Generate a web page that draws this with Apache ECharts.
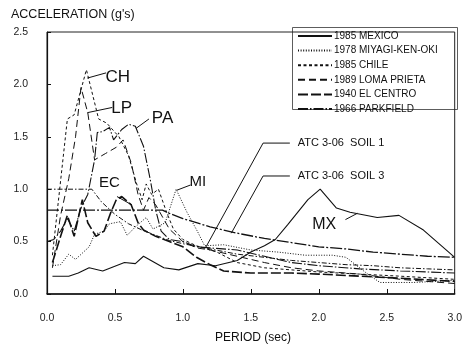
<!DOCTYPE html>
<html><head><meta charset="utf-8">
<script src="https://cdn.jsdelivr.net/npm/echarts@6/dist/echarts.min.js"></script>
<style>html,body{margin:0;padding:0;background:#fff}#c{width:465px;height:345px}</style>
</head><body><div id="c"></div>
<script>
// tick labels
var xTicks = [0, 0.5, 1.0, 1.5, 2.0, 2.5, 3.0];
var yTicks = [0, 0.5, 1.0, 1.5, 2.0, 2.5];
// [period (sec), acceleration (g)]
var mexico = [[0.04,0.17],[0.16,0.17],[0.23,0.2],[0.31,0.25],[0.41,0.22],[0.57,0.3],[0.65,0.29],[0.71,0.36],[0.86,0.25],[0.97,0.23],[1.11,0.29],[1.24,0.27],[1.40,0.32],[1.5,0.40],[1.6,0.46],[1.68,0.52],[1.77,0.66],[1.92,0.90],[2.01,1.0],[2.13,0.82],[2.23,0.78],[2.43,0.73],[2.59,0.75],[2.77,0.61],[3.0,0.35]];
var miyagi = [[0.04,0.27],[0.1,0.28],[0.16,0.38],[0.21,0.33],[0.31,0.45],[0.35,0.57],[0.42,0.6],[0.46,0.67],[0.54,0.69],[0.59,0.56],[0.65,0.64],[0.73,0.73],[0.78,0.62],[0.87,0.68],[0.95,1.0],[1.03,0.78],[1.11,0.59],[1.16,0.46],[1.3,0.47],[1.5,0.42],[1.7,0.40],[1.9,0.37],[2.1,0.37],[2.2,0.35],[2.35,0.2],[2.45,0.11],[2.7,0.11],[3.0,0.13]];
var chile = [[0.04,0.37],[0.15,1.67],[0.2,1.71],[0.29,2.14],[0.38,1.67],[0.44,1.63],[0.53,1.5],[0.6,1.32],[0.66,1.05],[0.7,0.9],[0.73,1.05],[0.77,0.95],[0.82,1.0],[0.88,0.78],[0.93,0.62],[1.0,0.52],[1.1,0.46],[1.25,0.4],[1.4,0.3],[1.6,0.25],[1.8,0.23],[2.0,0.21],[2.3,0.19],[2.6,0.17],[3.0,0.14]];
var lomaPrieta = [[0.04,0.25],[0.1,0.75],[0.16,1.1],[0.21,1.5],[0.25,1.97],[0.3,1.73],[0.35,1.28],[0.43,1.34],[0.51,1.4],[0.56,1.47],[0.62,1.25],[0.67,0.95],[0.71,0.8],[0.75,0.92],[0.8,0.85],[0.9,0.62],[1.0,0.5],[1.1,0.44],[1.2,0.42],[1.4,0.36],[1.6,0.3],[1.8,0.25],[2.0,0.22],[2.3,0.19],[2.6,0.14],[3.0,0.1]];
var elCentro = [[0.04,0.3],[0.1,0.55],[0.15,0.75],[0.2,0.55],[0.26,0.9],[0.3,0.68],[0.36,0.55],[0.42,0.6],[0.47,0.78],[0.51,0.9],[0.55,0.93],[0.62,0.85],[0.67,0.68],[0.71,0.61],[0.8,0.55],[0.9,0.5],[1.0,0.45],[1.1,0.35],[1.2,0.28],[1.3,0.22],[1.5,0.2],[1.8,0.2],[2.0,0.19],[2.3,0.17],[2.6,0.15],[3.0,0.12]];
var parkfield = [[0.0,0.5],[0.05,0.52],[0.1,0.6],[0.15,0.72],[0.2,0.6],[0.25,0.82],[0.3,0.95],[0.35,1.28],[0.37,1.54],[0.41,1.55],[0.46,1.59],[0.49,1.47],[0.55,1.57],[0.6,1.62],[0.65,1.6],[0.71,1.41],[0.76,1.09],[0.8,0.8],[0.84,0.6],[0.9,0.52],[1.0,0.5],[1.1,0.45],[1.2,0.44],[1.4,0.42],[1.6,0.36],[1.8,0.3],[2.0,0.27],[2.3,0.24],[2.6,0.22],[3.0,0.2]];
var atcSoil1 = [[0,1.0],[0.33,1.0],[0.4,0.88],[0.5,0.76],[0.6,0.67],[0.7,0.61],[0.8,0.56],[0.9,0.51],[1.0,0.48],[1.2,0.43],[1.4,0.38],[1.6,0.35],[1.8,0.32],[2.0,0.30],[2.2,0.28],[2.4,0.27],[2.6,0.25],[2.8,0.24],[3.0,0.23]];
var atcSoil3 = [[0,0.8],[0.85,0.8],[0.9,0.77],[1.0,0.72],[1.2,0.64],[1.4,0.58],[1.6,0.53],[1.8,0.49],[2.0,0.45],[2.2,0.43],[2.4,0.40],[2.6,0.38],[2.8,0.36],[3.0,0.35]];
var legendNames = ['1985 MEXICO','1978 MIYAGI-KEN-OKI','1985 CHILE','1989 LOMA PRIETA','1940 EL CENTRO','1966 PARKFIELD'];
// annotations: [text, textPos, leader points] in data coordinates
var curveLabels = [
  ['CH', [0.52,2.07], [[0.296,2.06],[0.435,2.11]], 17],
  ['LP', [0.55,1.77], [[0.296,1.73],[0.48,1.78]], 17],
  ['PA', [0.85,1.68], [[0.655,1.58],[0.75,1.67]], 17],
  ['EC', [0.46,1.06], [[0.515,0.93],[0.625,0.85]], 15],
  ['MI', [1.11,1.07], [[0.955,0.99],[1.056,1.04]], 15],
  ['MX', [2.04,0.66], [[2.196,0.71],[2.284,0.77]], 16]
];
var atcLabels = [
  ['ATC 3-06  SOIL 1', [1.845,1.44], [[1.166,0.44],[1.59,1.44],[1.787,1.44]]],
  ['ATC 3-06  SOIL 3', [1.845,1.126], [[1.356,0.58],[1.59,1.126],[1.787,1.126]]]
];

var FONT = '"Liberation Sans", Arial, Helvetica, sans-serif';
var chart = echarts.init(document.getElementById('c'), null, {renderer:'canvas'});
function ser(name, data, dash, w){
  return {name:name, type:'line', data:data, symbol:'none', showSymbol:false, animation:false,
    lineStyle:{color:'#111', width:w||1, type:dash}, itemStyle:{color:'#111'}, z:3};
}
var series = [
  ser('1985 MEXICO', mexico, 'solid', 1.1),
  ser('1978 MIYAGI-KEN-OKI', miyagi, [1,1.6], 1),
  ser('1985 CHILE', chile, [3,2.5], 1),
  ser('1989 LOMA PRIETA', lomaPrieta, [7,4], 1),
  ser('1940 EL CENTRO', elCentro, [10,3], 1.6),
  ser('1966 PARKFIELD', parkfield, [10,2,1.5,2], 1.1),
  ser('ATC SOIL 1', atcSoil1, [5,2,1.5,2], 1),
  ser('ATC SOIL 3', atcSoil3, [12,2,2,2], 1.3)
];
chart.setOption({
  animation:false,
  backgroundColor:'#fff',
  grid:{left:47, right:7, top:32, bottom:51, show:true, borderColor:'#222', borderWidth:1},
  xAxis:{type:'value', min:0, max:3, interval:0.5,
    axisLine:{show:true, lineStyle:{color:'#111', width:1.5}},
    axisTick:{show:true, inside:true, length:5, lineStyle:{color:'#111'}},
    splitLine:{show:false},
    axisLabel:{margin:19, fontSize:10.5, color:'#222', fontFamily:FONT, formatter:function(v){return v.toFixed(1);}}},
  yAxis:{type:'value', min:0, max:2.5, interval:0.5,
    axisLine:{show:true, lineStyle:{color:'#111', width:1.2}},
    axisTick:{show:true, inside:true, length:4, lineStyle:{color:'#111'}},
    splitLine:{show:false},
    axisLabel:{margin:19, fontSize:10.5, color:'#222', fontFamily:FONT, formatter:function(v){return v.toFixed(1);}}},
  legend:{data:legendNames, orient:'vertical', left:297, top:31, itemWidth:34, itemHeight:8, itemGap:4.6,
    padding:0, itemStyle:{opacity:0, borderWidth:0},
    textStyle:{fontSize:10, color:'#111', fontFamily:FONT, padding:[0,0,0,-3]}},
  series:series
});

var g = [];
g.push({type:'text', left:11, top:8, style:{text:"ACCELERATION (g's)", fontSize:12.5, fontFamily:FONT, fill:'#111'}});
g.push({type:'text', x:253, y:338, style:{text:'PERIOD (sec)', fontSize:12, fontFamily:FONT, fill:'#111', align:'center', verticalAlign:'middle'}});
g.push({type:'rect', shape:{x:292.5, y:27.5, width:165, height:82}, style:{fill:null, stroke:'#333', lineWidth:0.8}, z:-1});
function px(p){ return chart.convertToPixel({gridIndex:0}, p); }
curveLabels.forEach(function(a){
  var t = px(a[1]);
  g.push({type:'text', x:t[0], y:t[1], style:{text:a[0], fontSize:a[3], fontFamily:FONT, fill:'#111', align:'center', verticalAlign:'middle'}, z:10});
  g.push({type:'polyline', shape:{points:a[2].map(px)}, style:{stroke:'#111', lineWidth:1, fill:null}, z:10});
});
atcLabels.forEach(function(a){
  var t = px(a[1]);
  g.push({type:'text', x:t[0], y:t[1], style:{text:a[0], fontSize:11, fontFamily:FONT, fill:'#111', align:'left', verticalAlign:'middle'}, z:10});
  g.push({type:'polyline', shape:{points:a[2].map(px)}, style:{stroke:'#111', lineWidth:1, fill:null}, z:10});
});
chart.setOption({graphic:g});
</script></body></html>
